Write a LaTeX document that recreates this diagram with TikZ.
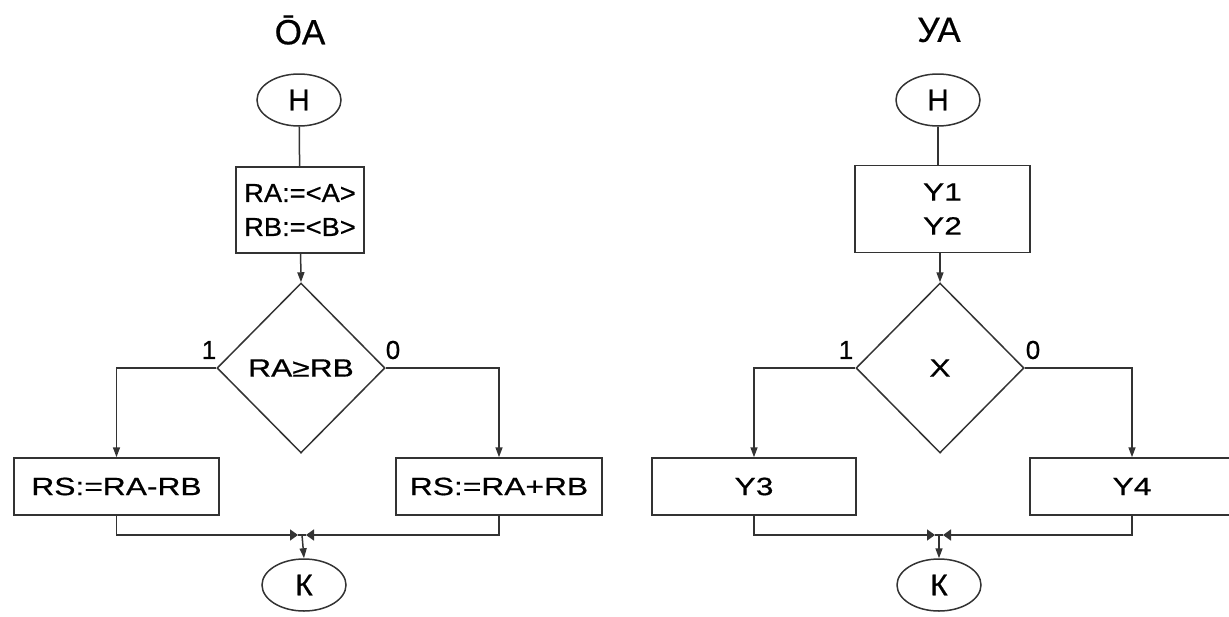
\documentclass[tikz,border=0pt]{standalone}
\usepackage{fontspec}
\setmainfont{Liberation Sans}[FakeBold=0.6]
\newfontfamily\basefont{Liberation Sans}[FakeBold=0.6]
\newfontfamily\widefont{Liberation Sans}[FakeStretch=1.27,FakeBold=0.6]
\newfontfamily\midfont{Liberation Sans}[FakeStretch=1.05,FakeBold=0.6]
\usetikzlibrary{shapes.geometric,arrows.meta}
\begin{document}
\begin{tikzpicture}[x=1pt,y=-1pt,
  line/.style={draw=black!80,line width=1.5pt},
  arr/.style={line,-{Triangle[length=10pt,width=7pt]}},
  jarr/.style={line,-{Triangle[length=8pt,width=11pt]}},
  term/.style={ellipse,draw=black!80,line width=1.5pt,minimum width=84pt,minimum height=52pt,inner sep=0pt,font=\basefont\fontsize{30}{34}\selectfont},
  opbox/.style={rectangle,draw=black!80,line width=1.5pt,inner sep=0pt,font=\widefont\fontsize{25}{34}\selectfont,align=center},
  cond/.style={diamond,draw=black!80,line width=1.5pt,minimum width=168pt,minimum height=170pt,inner sep=0pt,font=\widefont\fontsize{25}{30}\selectfont},
  lbl/.style={font=\basefont\fontsize{26}{30}\selectfont,inner sep=0pt},
  ttl/.style={font=\basefont\fontsize{35}{38}\selectfont,inner sep=0pt}]
\useasboundingbox (0,0) rectangle (1229,616);
\fill[white] (0,0) rectangle (1229,616);
% ---------- left: OA ----------
\node[ttl] (t1) at (300,30) {Ō\char"0410};
\node[term] (h1) at (299,100) {Н};
\node[opbox,minimum width=128pt,minimum height=86pt,font=\midfont\fontsize{26}{34}\selectfont] (b1) at (300,210) {RA:=<A>\\RB:=<B>};
\node[cond] (d1) at (301,368) {RA≥RB};
\node[opbox,minimum width=205pt,minimum height=57pt] (l1) at (116.5,486.5) {RS:=RA-RB};
\node[opbox,minimum width=206pt,minimum height=57pt] (r1) at (499,486.5) {RS:=RA+RB};
\coordinate (j1) at (302,535);
\coordinate (jl1) at (298,535);
\coordinate (jr1) at (306,535);
\node[term] (k1) at (304,585) {К};
\node[lbl] (one1) at (209,350) {1};
\node[lbl] (zero1) at (393,350) {0};
\draw[line] (h1) -- (b1);
\draw[arr] (b1) -- (d1.north);
\draw[arr] (d1.west) -| (l1.north);
\draw[arr] (d1.east) -| (r1.north);
\draw[jarr] (l1.south) |- (jl1);
\draw[jarr] (r1.south) |- (jr1);
\draw[line] (jl1) -- (jr1);
\draw[arr] (j1) -- (k1.north);
% ---------- right: UA ----------
\node[ttl] (t2) at (939,30) {УА};
\node[term] (h2) at (938,100) {Н};
\node[opbox,minimum width=175pt,minimum height=87pt] (b2) at (942.5,209) {Y1\\Y2};
\node[cond] (d2) at (940,368) {X};
\node[opbox,minimum width=204pt,minimum height=57pt] (l2) at (754,486.5) {Y3};
\node[opbox,minimum width=204pt,minimum height=57pt] (r2) at (1132,486.5) {Y4};
\coordinate (j2) at (939,535);
\coordinate (jl2) at (935,535);
\coordinate (jr2) at (943,535);
\node[term] (k2) at (939,585) {К};
\node[lbl] (one2) at (846,350) {1};
\node[lbl] (zero2) at (1033,350) {0};
\draw[line] (h2.south) -- (h2.south |- b2.north);
\draw[arr] (d2.north |- b2.south) -- (d2.north);
\draw[arr] (d2.west) -| (l2.north);
\draw[arr] (d2.east) -| (r2.north);
\draw[jarr] (l2.south) |- (jl2);
\draw[jarr] (r2.south) |- (jr2);
\draw[line] (jl2) -- (jr2);
\draw[arr] (j2) -- (k2.north);
\end{tikzpicture}
\end{document}
